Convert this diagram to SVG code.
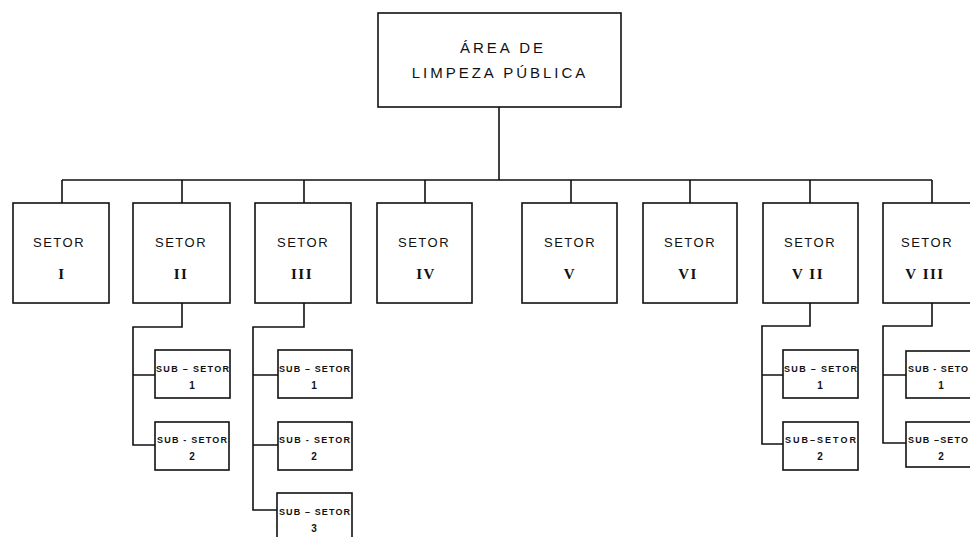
<svg xmlns="http://www.w3.org/2000/svg" width="970" height="537" viewBox="0 0 970 537">
<style>
.box{fill:#fff;stroke:#111;stroke-width:1.6}
.ln{fill:none;stroke:#111;stroke-width:1.6}
.t1{font-family:"Liberation Sans",Arial,sans-serif;font-size:15px;fill:#111;letter-spacing:3px;text-anchor:middle}
.st{font-family:"Liberation Sans",Arial,sans-serif;font-size:13px;fill:#111;letter-spacing:1.5px;text-anchor:middle}
.rn{font-family:"Liberation Serif","Times New Roman",serif;font-size:15px;font-weight:bold;fill:#111;letter-spacing:1.5px;text-anchor:middle}
.ss{font-family:"Liberation Sans",Arial,sans-serif;font-size:9px;font-weight:bold;fill:#111;text-anchor:start}
.sn{font-family:"Liberation Sans",Arial,sans-serif;font-size:10px;font-weight:bold;fill:#111;text-anchor:middle}
</style>
<rect width="970" height="537" fill="#fff"/>
<g id="connectors">
<path class="ln" d="M499 107V180M62 180H932M62 180V203M182 180V203M304 180V203M425 180V203M571 180V203M690 180V203M810 180V203M932 180V203"/>
<path class="ln" d="M182 303V327H133V445H155M133 375H155"/>
<path class="ln" d="M304 303V327H253V510H277M253 375H278M253 445H278"/>
<path class="ln" d="M810 303V326H762V444H783M762 375H783"/>
<path class="ln" d="M932 303V326H883V443H906M883 375H906"/>
</g>
<g id="area">
<rect class="box" x="378" y="13" width="243" height="94"/>
<text class="t1" x="503" y="53">ÁREA DE</text>
<text class="t1" x="500" y="78">LIMPEZA PÚBLICA</text>
</g>
<g id="setor1"><rect class="box" x="13" y="203" width="96" height="100"/><text class="st" x="59" y="247">SETOR</text><text class="rn" x="62" y="279">I</text></g>
<g id="setor2"><rect class="box" x="133" y="203" width="97" height="100"/><text class="st" x="181" y="247">SETOR</text><text class="rn" x="181" y="279">II</text></g>
<g id="setor3"><rect class="box" x="255" y="203" width="96" height="100"/><text class="st" x="303" y="247">SETOR</text><text class="rn" x="302" y="279">III</text></g>
<g id="setor4"><rect class="box" x="377" y="203" width="95" height="100"/><text class="st" x="424" y="247">SETOR</text><text class="rn" x="426" y="279">IV</text></g>
<g id="setor5"><rect class="box" x="522" y="203" width="95" height="100"/><text class="st" x="570" y="247">SETOR</text><text class="rn" x="570" y="279">V</text></g>
<g id="setor6"><rect class="box" x="643" y="203" width="94" height="100"/><text class="st" x="690" y="247">SETOR</text><text class="rn" x="688" y="279">VI</text></g>
<g id="setor7"><rect class="box" x="763" y="203" width="95" height="100"/><text class="st" x="810" y="247">SETOR</text><text class="rn" x="808" y="279">V II</text></g>
<g id="setor8"><rect class="box" x="883" y="203" width="100" height="100"/><text class="st" x="927" y="247">SETOR</text><text class="rn" x="925" y="279">V III</text></g>
<g id="sub2-1"><rect class="box" x="155" y="350" width="75" height="48"/><text class="ss" x="156" y="372" textLength="73" lengthAdjust="spacing">SUB – SETOR</text><text class="sn" x="192" y="389">1</text></g>
<g id="sub2-2"><rect class="box" x="155" y="422" width="74" height="48"/><text class="ss" x="157" y="443" textLength="70" lengthAdjust="spacing">SUB - SETOR</text><text class="sn" x="192" y="460">2</text></g>
<g id="sub3-1"><rect class="box" x="278" y="350" width="74" height="48"/><text class="ss" x="279" y="372" textLength="71" lengthAdjust="spacing">SUB – SETOR</text><text class="sn" x="314" y="389">1</text></g>
<g id="sub3-2"><rect class="box" x="278" y="422" width="74" height="48"/><text class="ss" x="279" y="443" textLength="71" lengthAdjust="spacing">SUB - SETOR</text><text class="sn" x="314" y="460">2</text></g>
<g id="sub3-3"><rect class="box" x="277" y="493" width="75" height="52"/><text class="ss" x="279" y="515" textLength="71" lengthAdjust="spacing">SUB – SETOR</text><text class="sn" x="314" y="532">3</text></g>
<g id="sub7-1"><rect class="box" x="783" y="350" width="75" height="48"/><text class="ss" x="784" y="372" textLength="73" lengthAdjust="spacing">SUB – SETOR</text><text class="sn" x="820" y="389">1</text></g>
<g id="sub7-2"><rect class="box" x="783" y="422" width="75" height="48"/><text class="ss" x="785" y="443" textLength="71" lengthAdjust="spacing">SUB–SETOR</text><text class="sn" x="820" y="460">2</text></g>
<g id="sub8-1"><rect class="box" x="906" y="351" width="80" height="47"/><text class="ss" x="908" y="372" textLength="60" lengthAdjust="spacing">SUB - SETO</text><text class="sn" x="941" y="389">1</text></g>
<g id="sub8-2"><rect class="box" x="906" y="422" width="80" height="45"/><text class="ss" x="908" y="443" textLength="60" lengthAdjust="spacing">SUB –SETO</text><text class="sn" x="941" y="460">2</text></g>
</svg>
